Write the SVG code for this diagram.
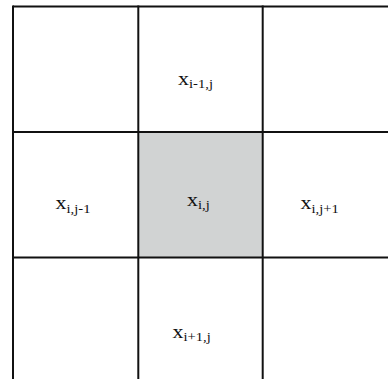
<svg xmlns="http://www.w3.org/2000/svg" width="388" height="379" viewBox="0 0 388 379">
<style>
.grid{stroke:#111;stroke-width:2;fill:none}
.lbl{font-family:"Liberation Serif","Times New Roman",serif;font-size:18px;fill:#111}
.sub{font-size:12px}
</style>
<rect width="388" height="379" fill="#fff"/>
<g id="cell-center"><rect x="138" y="132" width="125" height="125.5" fill="#d1d3d3"/></g>
<g id="connectors" class="grid">
<line x1="13" y1="6.5" x2="388" y2="6.5"/>
<line x1="13" y1="132" x2="388" y2="132"/>
<line x1="13" y1="257.5" x2="388" y2="257.5"/>
<line x1="13" y1="5.5" x2="13" y2="379"/>
<line x1="138.3" y1="5.5" x2="138.3" y2="379"/>
<line x1="262.7" y1="5.5" x2="262.7" y2="379"/>
</g>
<g id="n-top" transform="translate(178,84.5) scale(1.22,1)"><text class="lbl">x<tspan class="sub" dy="3.3">i-1,j</tspan></text></g>
<g id="n-left" transform="translate(55.5,209) scale(1.22,1)"><text class="lbl">x<tspan class="sub" dy="3.5">i,j-1</tspan></text></g>
<g id="n-center" transform="translate(187,206) scale(1.22,1)"><text class="lbl">x<tspan class="sub" dy="3.3">i,j</tspan></text></g>
<g id="n-right" transform="translate(300.5,209) scale(1.22,1)"><text class="lbl">x<tspan class="sub" dy="3.5">i,j+1</tspan></text></g>
<g id="n-bottom" transform="translate(172.5,337.5) scale(1.22,1)"><text class="lbl">x<tspan class="sub" dy="3.3">i+1,j</tspan></text></g>
</svg>
